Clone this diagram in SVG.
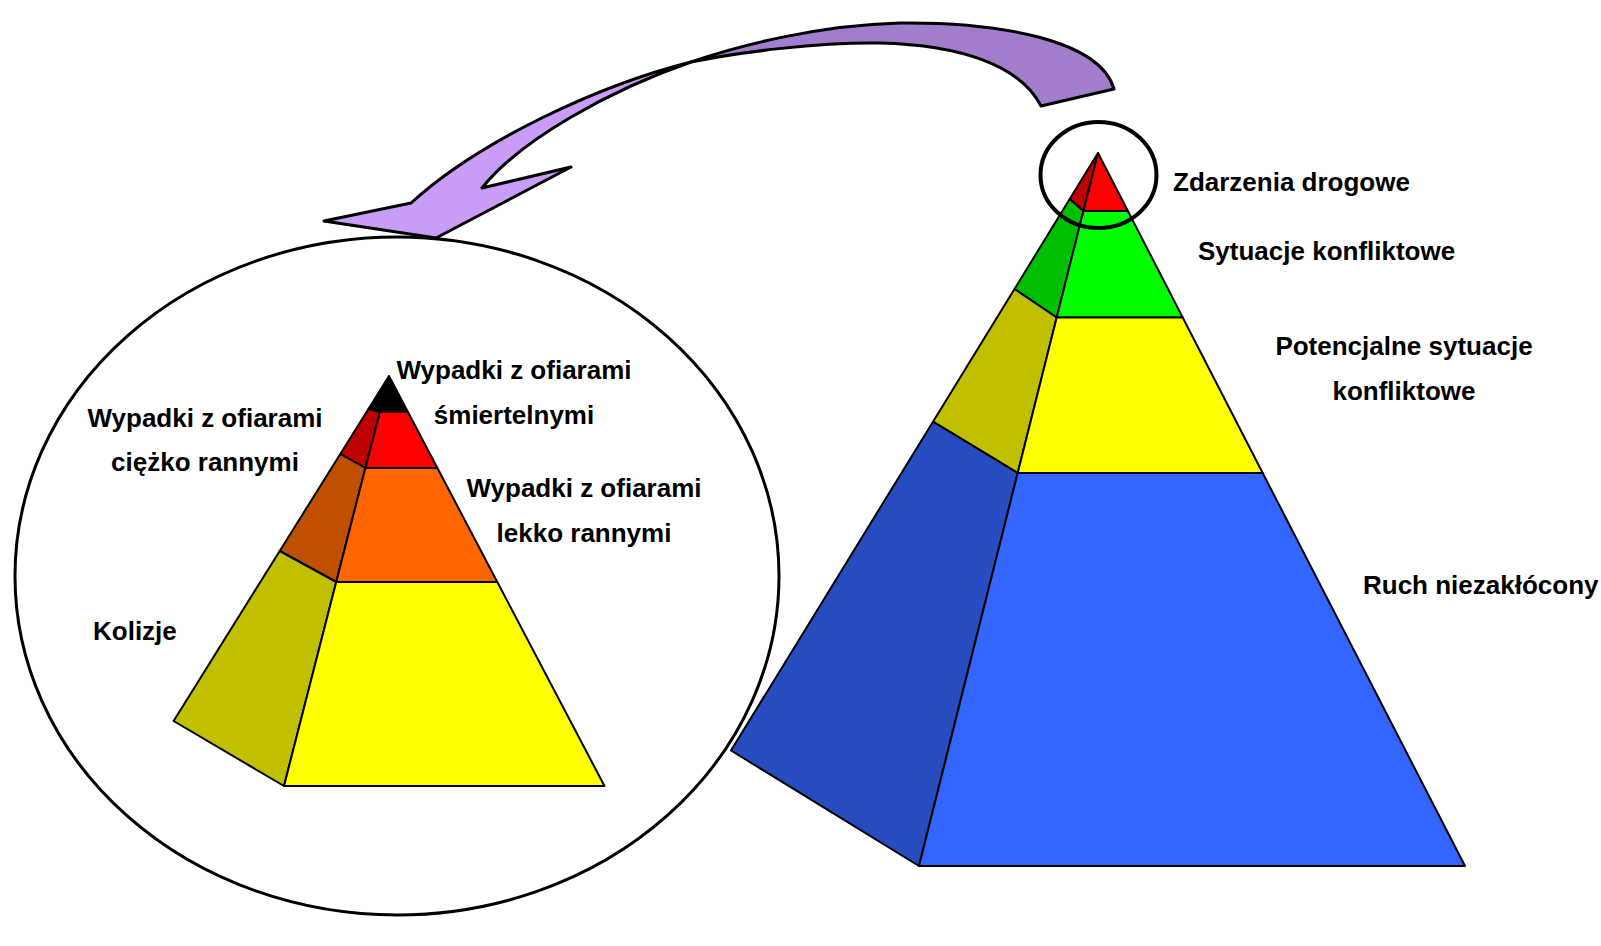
<svg xmlns="http://www.w3.org/2000/svg" width="1601" height="946" viewBox="0 0 1601 946">
<style>
.lbl{font-family:"Liberation Sans",Arial,sans-serif;font-weight:bold;font-size:26px;fill:#000}
.seg{stroke:#000;stroke-width:2;stroke-linejoin:round}
.ring{fill:none;stroke:#000}
.arr{stroke:#000;stroke-width:3;stroke-linejoin:round}
</style>
<rect width="1601" height="946" fill="#fff"/>

<g id="zoom-circle">
<ellipse class="ring" cx="397" cy="576" rx="382" ry="339" stroke-width="3"/>
</g>

<g id="connectors">
<path class="arr" fill="#A17DCB" d="M1114,89 C1100,40 1000,22 900,23 C820,25 740,45 691,62 C740,52 820,42 880,43 C960,45 1020,65 1041,106 Z"/>
<path class="arr" fill="#C99CF7" d="M691,62 C600,85 480,140 411,203 L324,221 L436,238 L571,167 L482,188 C520,140 610,90 691,62 Z"/>
</g>

<g id="small-pyramid">
<polygon class="seg" fill="#000000" points="389,376 368.4,409 379.9,411.7 407.8,411.7"/>
<polygon class="seg" fill="#C00000" points="368.4,409 379.9,411.7 365.4,468 340.3,454"/>
<polygon class="seg" fill="#FF0000" points="379.9,411.7 407.8,411.7 437.4,468 365.4,468"/>
<polygon class="seg" fill="#C05000" points="340.3,454 365.4,468 336.2,582 279.7,551"/>
<polygon class="seg" fill="#FF6600" points="365.4,468 437.4,468 497.3,582 336.2,582"/>
<polygon class="seg" fill="#C0C000" points="279.7,551 336.2,582 284,786 173.6,721"/>
<polygon class="seg" fill="#FFFF00" points="336.2,582 497.3,582 604.5,786 284,786"/>
</g>

<g id="big-pyramid">
<polygon class="seg" fill="#C00000" points="1098,153 1069.7,199 1083.4,211"/>
<polygon class="seg" fill="#FF0000" points="1098,153 1083.4,211 1127.9,211"/>
<polygon class="seg" fill="#00BF00" points="1069.7,199 1083.4,211 1056.7,317.5 1014.5,289"/>
<polygon class="seg" fill="#00FF00" points="1083.4,211 1127.9,211 1182.7,317.5 1056.7,317.5"/>
<polygon class="seg" fill="#C0C000" points="1014.5,289 1056.7,317.5 1017.7,473 933,421.7"/>
<polygon class="seg" fill="#FFFF00" points="1056.7,317.5 1182.7,317.5 1262.7,473 1017.7,473"/>
<polygon class="seg" fill="#264CBF" points="933,421.7 1017.7,473 919,866 731,750.5"/>
<polygon class="seg" fill="#3366FF" points="1017.7,473 1262.7,473 1465,866 919,866"/>
</g>

<g id="apex-circle">
<ellipse class="ring" cx="1098.5" cy="175" rx="58" ry="53" stroke-width="4"/>
</g>

<g id="label-zdarzenia"><text class="lbl" x="1173" y="191">Zdarzenia drogowe</text></g>
<g id="label-sytuacje"><text class="lbl" x="1198" y="260">Sytuacje konfliktowe</text></g>
<g id="label-potencjalne"><text class="lbl" text-anchor="middle"><tspan x="1404" y="355">Potencjalne sytuacje</tspan><tspan x="1404" y="400">konfliktowe</tspan></text></g>
<g id="label-ruch"><text class="lbl" x="1363" y="594">Ruch niezakłócony</text></g>
<g id="label-smiertelne"><text class="lbl" text-anchor="middle"><tspan x="514" y="379">Wypadki z ofiarami</tspan><tspan x="514" y="424">śmiertelnymi</tspan></text></g>
<g id="label-ciezko"><text class="lbl" text-anchor="middle"><tspan x="205" y="427">Wypadki z ofiarami</tspan><tspan x="205" y="471">ciężko rannymi</tspan></text></g>
<g id="label-lekko"><text class="lbl" text-anchor="middle"><tspan x="584" y="497">Wypadki z ofiarami</tspan><tspan x="584" y="542">lekko rannymi</tspan></text></g>
<g id="label-kolizje"><text class="lbl" x="93" y="640">Kolizje</text></g>
</svg>
